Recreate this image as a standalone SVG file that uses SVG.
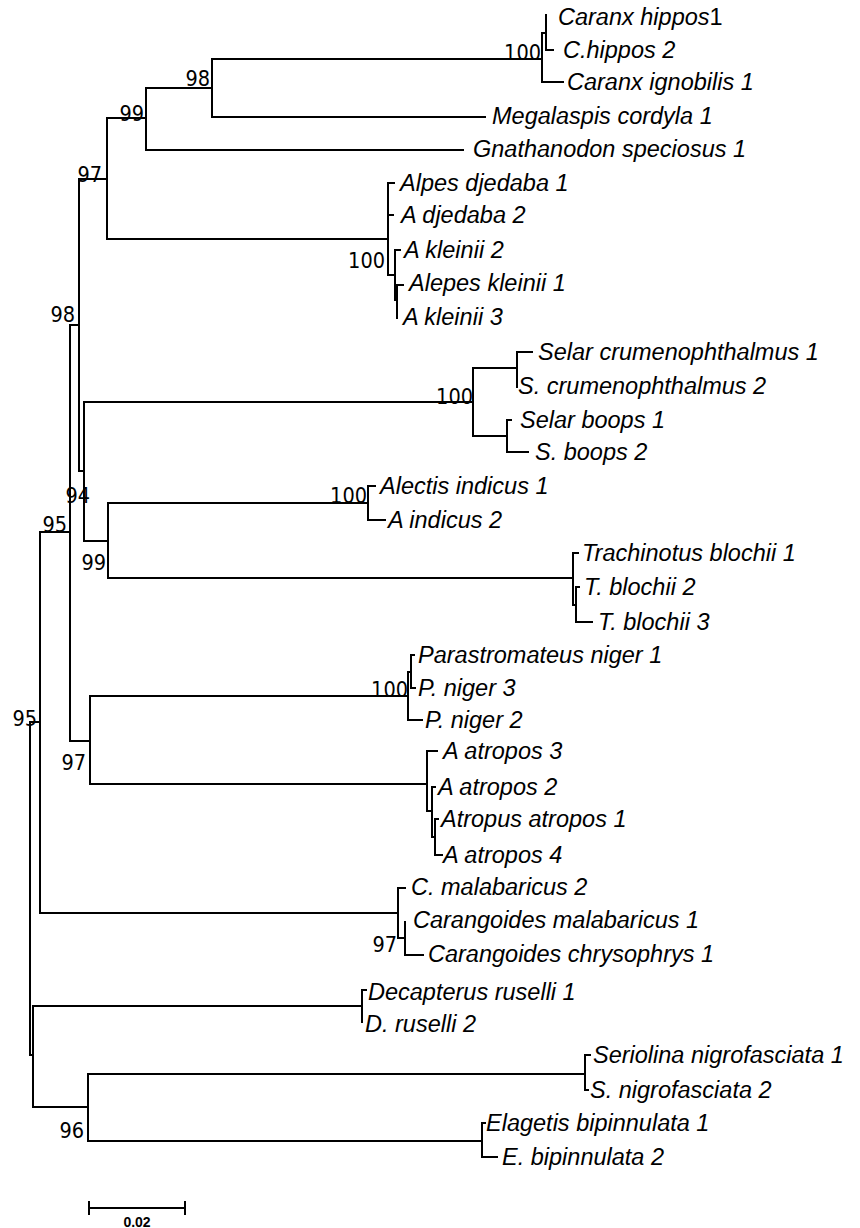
<svg xmlns="http://www.w3.org/2000/svg" width="860" height="1228" viewBox="0 0 860 1228">
<style>
.br{fill:none;stroke:#000;stroke-width:2;stroke-linecap:square}
.lf{font-family:"Liberation Sans",Arial,sans-serif;font-style:italic;font-size:23.5px;fill:#000}
.bs{font-family:"DejaVu Sans Condensed","DejaVu Sans",sans-serif;font-stretch:condensed;font-size:21.5px;fill:#000;text-anchor:end}
.sc{font-family:"Liberation Sans",Arial,sans-serif;font-weight:bold;font-size:14px;fill:#000;text-anchor:middle}
</style>
<rect width="860" height="1228" fill="#fff"/>
<g id="connectors">
<path class="br" d="M30 722V1055M40 532V913M70 325V741M79 179V471M107 118V239M146 88V150M212 59V117M542 33V82M546 15V50M84 402V541M473 368V436M517 352V387M507 420V452M108 503V578M368 486V520M573 553V605M576 587V622M388 183V275M395 250V300M397 285V318M90 696V784M408 672V720M411 655V688M427 751V811M432 787V837M435 819V855M398 888V938M405 922V955M33 1006V1107M362 990V1022M88 1074V1141M585 1055V1090M482 1123V1157"/>
<path class="br" d="M30 722H40M30 1055H33M40 532H70M40 913H398M70 325H79M70 741H90M79 179H107M79 471H84M107 118H146M107 239H388M146 88H212M146 150H463M212 59H542M212 117H485M542 33H546M542 82H563M546 50H553M84 402H473M84 541H108M473 368H517M473 436H507M517 352H532M507 420H511M507 452H528M108 503H368M108 578H573M368 486H375M368 520H385M573 553H578M573 605H576M576 587H579M576 622H592M388 183H394M388 215H393M388 275H395M395 250H400M395 300H397M397 285H403M90 696H408M90 784H427M408 672H411M408 720H422M411 655H414M411 688H415M427 751H437M427 811H432M432 787H435M432 837H435M435 819H438M435 855H442M398 888H405M398 938H405M405 955H423M33 1006H362M33 1107H88M362 990H366M88 1074H585M88 1141H482M585 1055H590M585 1090H588M482 1123H485M482 1157H497"/>
</g>
<g id="scale-bar">
<path class="br" d="M89 1208H185M89 1202V1214M185 1202V1214"/>
<text class="sc" x="137" y="1227">0.02</text>
</g>
<g id="bootstrap">
<g id="n-root"><text class="bs" x="37" y="726">95</text></g>
<g id="n-95"><text class="bs" x="67" y="532">95</text></g>
<g id="n-98a"><text class="bs" x="75" y="322">98</text></g>
<g id="n-97a"><text class="bs" x="102" y="182">97</text></g>
<g id="n-99a"><text class="bs" x="144" y="121">99</text></g>
<g id="n-98b"><text class="bs" x="210" y="86">98</text></g>
<g id="n-caranx"><text class="bs" x="541" y="60">100</text></g>
<g id="n-alepes"><text class="bs" x="385" y="268">100</text></g>
<g id="n-selar"><text class="bs" x="473" y="404">100</text></g>
<g id="n-94"><text class="bs" x="90" y="503">94</text></g>
<g id="n-99b"><text class="bs" x="106" y="570">99</text></g>
<g id="n-alectis"><text class="bs" x="367" y="503">100</text></g>
<g id="n-pniger"><text class="bs" x="408" y="697">100</text></g>
<g id="n-97b"><text class="bs" x="86" y="770">97</text></g>
<g id="n-carangoides"><text class="bs" x="397" y="952">97</text></g>
<g id="n-96"><text class="bs" x="84" y="1138">96</text></g>
</g>
<g id="leaves">
<g id="leaf-caranx-hippos-1"><text class="lf" x="558" y="25">Caranx hippos<tspan font-style="normal">1</tspan></text></g>
<g id="leaf-c-hippos-2"><text class="lf" x="563" y="58">C.hippos 2</text></g>
<g id="leaf-caranx-ignobilis-1"><text class="lf" x="567" y="90">Caranx ignobilis 1</text></g>
<g id="leaf-megalaspis"><text class="lf" x="492" y="124">Megalaspis cordyla 1</text></g>
<g id="leaf-gnathanodon"><text class="lf" x="473" y="157">Gnathanodon speciosus 1</text></g>
<g id="leaf-alpes-djedaba-1"><text class="lf" x="400" y="191">Alpes djedaba 1</text></g>
<g id="leaf-a-djedaba-2"><text class="lf" x="401" y="223">A djedaba 2</text></g>
<g id="leaf-a-kleinii-2"><text class="lf" x="404" y="258">A kleinii 2</text></g>
<g id="leaf-alepes-kleinii-1"><text class="lf" x="409" y="291">Alepes kleinii 1</text></g>
<g id="leaf-a-kleinii-3"><text class="lf" x="403" y="325">A kleinii 3</text></g>
<g id="leaf-selar-crum-1"><text class="lf" x="538" y="360">Selar crumenophthalmus 1</text></g>
<g id="leaf-s-crum-2"><text class="lf" x="518" y="394">S. crumenophthalmus 2</text></g>
<g id="leaf-selar-boops-1"><text class="lf" x="520" y="428">Selar boops 1</text></g>
<g id="leaf-s-boops-2"><text class="lf" x="535" y="460">S. boops 2</text></g>
<g id="leaf-alectis-1"><text class="lf" x="380" y="494">Alectis indicus 1</text></g>
<g id="leaf-a-indicus-2"><text class="lf" x="388" y="528">A indicus 2</text></g>
<g id="leaf-trachinotus-1"><text class="lf" x="582" y="561">Trachinotus blochii 1</text></g>
<g id="leaf-t-blochii-2"><text class="lf" x="584" y="595">T. blochii 2</text></g>
<g id="leaf-t-blochii-3"><text class="lf" x="598" y="630">T. blochii 3</text></g>
<g id="leaf-parastromateus-1"><text class="lf" x="418" y="663">Parastromateus niger 1</text></g>
<g id="leaf-p-niger-3"><text class="lf" x="418" y="696">P. niger 3</text></g>
<g id="leaf-p-niger-2"><text class="lf" x="425" y="728">P. niger 2</text></g>
<g id="leaf-a-atropos-3"><text class="lf" x="443" y="759">A atropos 3</text></g>
<g id="leaf-a-atropos-2"><text class="lf" x="438" y="795">A atropos 2</text></g>
<g id="leaf-atropus-atropos-1"><text class="lf" x="441" y="827">Atropus atropos 1</text></g>
<g id="leaf-a-atropos-4"><text class="lf" x="443" y="863">A atropos 4</text></g>
<g id="leaf-c-malabaricus-2"><text class="lf" x="411" y="895">C. malabaricus 2</text></g>
<g id="leaf-carangoides-malabaricus-1"><text class="lf" x="413" y="928">Carangoides malabaricus 1</text></g>
<g id="leaf-carangoides-chrysophrys-1"><text class="lf" x="428" y="962">Carangoides chrysophrys 1</text></g>
<g id="leaf-decapterus-1"><text class="lf" x="368" y="1000">Decapterus ruselli 1</text></g>
<g id="leaf-d-ruselli-2"><text class="lf" x="365" y="1032">D. ruselli 2</text></g>
<g id="leaf-seriolina-1"><text class="lf" x="593" y="1063">Seriolina nigrofasciata 1</text></g>
<g id="leaf-s-nigrofasciata-2"><text class="lf" x="590" y="1098">S. nigrofasciata 2</text></g>
<g id="leaf-elagetis-1"><text class="lf" x="486" y="1131">Elagetis bipinnulata 1</text></g>
<g id="leaf-e-bipinnulata-2"><text class="lf" x="502" y="1165">E. bipinnulata 2</text></g>
</g>
</svg>
